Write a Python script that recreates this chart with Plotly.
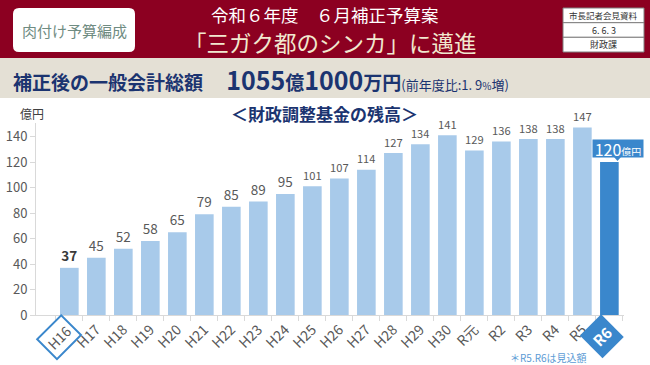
import plotly.graph_objects as go

categories = ["H16", "H17", "H18", "H19", "H20", "H21", "H22", "H23", "H24", "H25",
              "H26", "H27", "H28", "H29", "H30", "R元", "R2", "R3", "R4", "R5", "R6"]
values = [37, 45, 52, 58, 65, 79, 85, 89, 95, 101, 107, 114, 127, 134, 141, 129,
          136, 138, 138, 147, 120]
y_ticks = [0, 20, 40, 60, 80, 100, 120, 140]

W, H = 650, 365
L, R, T, B = 36, 624, 123, 315  # plot area in px


def px(x):
    return (x - L) / (R - L)


def py(y):
    return (B - y) / (B - T)


FONT = "Noto Sans CJK JP"
NAVY = "#1B3470"
LIGHT = "#A8CAEA"
DARK = "#3A87CC"
GREY = "#595959"

colors = [LIGHT] * (len(values) - 1) + [DARK]
texts = []
for i, v in enumerate(values):
    if i == 0:
        texts.append(f"<b>{v}</b>")
    elif i == len(values) - 1:
        texts.append("")
    else:
        texts.append(str(v))
tick_text = ["" if c in ("H16", "R6") else c for c in categories]

fig = go.Figure()
fig.add_trace(go.Bar(
    x=categories, y=values, marker=dict(color=colors, line=dict(width=0)),
    text=texts, textposition="outside", cliponaxis=False,
    textfont=dict(family=FONT, size=13.5, color=[("#3A3A3A" if i == 0 else GREY) for i in range(len(values))]),
    hoverinfo="skip",
))

shapes = []
shapes.append(dict(type="rect", xref="paper", yref="paper", x0=px(0), x1=px(W), y0=py(58), y1=py(0),
                   fillcolor="#8C0021", line=dict(width=0), layer="below"))
shapes.append(dict(type="rect", xref="paper", yref="paper", x0=px(0), x1=px(W), y0=py(98), y1=py(58),
                   fillcolor="#E4E0D5", line=dict(width=0), layer="below"))


def rounded(x0, y0, x1, y1, r):
    return (f"M {px(x0 + r)},{py(y0)} L {px(x1 - r)},{py(y0)} Q {px(x1)},{py(y0)} {px(x1)},{py(y0 + r)} "
            f"L {px(x1)},{py(y1 - r)} Q {px(x1)},{py(y1)} {px(x1 - r)},{py(y1)} "
            f"L {px(x0 + r)},{py(y1)} Q {px(x0)},{py(y1)} {px(x0)},{py(y1 - r)} "
            f"L {px(x0)},{py(y0 + r)} Q {px(x0)},{py(y0)} {px(x0 + r)},{py(y0)} Z")


shapes.append(dict(type="path", xref="paper", yref="paper", path=rounded(13, 8, 135, 52, 6),
                   fillcolor="white", line=dict(width=0)))
rows_y = [8, 22.7, 37.3, 52]
for i in range(3):
    shapes.append(dict(type="rect", xref="paper", yref="paper", x0=px(563), x1=px(644),
                       y0=py(rows_y[i + 1]), y1=py(rows_y[i]), fillcolor="white",
                       line=dict(color="#808080", width=1)))
shapes.append(dict(type="path", xref="paper", yref="paper",
                   path=f"M {px(614)},{py(157)} L {px(621)},{py(157)} L {px(617.5)},{py(161)} Z",
                   fillcolor=DARK, line=dict(width=0)))

annotations = []
annotations.append(dict(xref="paper", yref="paper", x=px(74), y=py(30), text="肉付け予算編成",
                        showarrow=False, xanchor="center", yanchor="middle",
                        font=dict(family=FONT, size=15, color="#6F8C82")))
annotations.append(dict(xref="paper", yref="paper", x=px(325), y=py(14), text="令和６年度　６月補正予算案",
                        showarrow=False, xanchor="center", yanchor="middle",
                        font=dict(family=FONT, size=17.5, color="white")))
annotations.append(dict(xref="paper", yref="paper", x=px(331), y=py(42), text="「三ガク都のシンカ」に邁進",
                        showarrow=False, xanchor="center", yanchor="middle",
                        font=dict(family=FONT, size=22.5, color="#F1E8CF")))
for txt, cy in zip(["市長記者会見資料", "6. 6. 3", "財政課"], [15.3, 30, 44.6]):
    annotations.append(dict(xref="paper", yref="paper", x=px(603.5), y=py(cy), text=txt,
                            showarrow=False, xanchor="center", yanchor="middle",
                            font=dict(family=FONT, size=8.5 if cy < 20 else 9, color="#333333")))
annotations.append(dict(xref="paper", yref="paper", x=px(11), y=py(79),
                        text=("<b>補正後の一般会計総額</b>　 "
                              "<b><span style='font-size:25px'>1055</span>億"
                              "<span style='font-size:25px'>1000</span>万円</b>"
                              "<span style='font-size:13px'>(前年度比:1. 9<span style='font-size:10px'>%</span>増)</span>"),
                        showarrow=False, xanchor="left", yanchor="middle",
                        font=dict(family=FONT, size=19, color=NAVY)))
annotations.append(dict(xref="paper", yref="paper", x=px(324), y=py(113), text="<b>＜財政調整基金の残高＞</b>",
                        showarrow=False, xanchor="center", yanchor="middle",
                        font=dict(family=FONT, size=17, color=NAVY)))
annotations.append(dict(xref="paper", yref="paper", x=px(32), y=py(113), text="億円",
                        showarrow=False, xanchor="center", yanchor="middle",
                        font=dict(family=FONT, size=12, color="#404040")))
annotations.append(dict(xref="paper", yref="paper", x=px(618), y=py(148.5),
                        text="120<span style='font-size:10px'>億円</span>",
                        showarrow=False, xanchor="center", yanchor="middle", bgcolor=DARK,
                        borderpad=1, width=48, height=15,
                        font=dict(family=FONT, size=16, color="white")))
annotations.append(dict(xref="x", yref="paper", x="H16", xshift=-10, y=py(337), text="H16",
                        showarrow=False, xanchor="center", yanchor="middle", textangle=-45,
                        bgcolor="white", bordercolor=DARK, borderwidth=2, borderpad=3,
                        font=dict(family=FONT, size=14, color=GREY)))
annotations.append(dict(xref="x", yref="paper", x="R6", xshift=-8, y=py(336), text="<b>R6</b>",
                        showarrow=False, xanchor="center", yanchor="middle", textangle=-45,
                        bgcolor=DARK, borderpad=5,
                        font=dict(family=FONT, size=15, color="white")))
annotations.append(dict(xref="paper", yref="paper", x=px(589), y=py(357), text="＊R5.R6は見込額",
                        showarrow=False, xanchor="right", yanchor="middle",
                        font=dict(family=FONT, size=10, color="#5B9BD5")))

fig.update_layout(
    width=W, height=H,
    margin=dict(l=L, r=W - R, t=T, b=H - B, pad=0),
    paper_bgcolor="white", plot_bgcolor="white",
    showlegend=False, bargap=0.31,
    shapes=shapes, annotations=annotations,
    font=dict(family=FONT),
    xaxis=dict(type="category", tickmode="array", tickvals=categories, ticktext=tick_text,
               tickson="boundaries", ticks="outside", ticklen=5, tickcolor="#D9D9D9",
               showline=True, linecolor="#D9D9D9", linewidth=1, tickangle=-45,
               tickfont=dict(family=FONT, size=14, color=GREY), showgrid=False,
               fixedrange=True, automargin=False),
    yaxis=dict(range=[0, 150.6], tickvals=y_ticks, showgrid=False, zeroline=False,
               showline=True, linecolor="#D9D9D9", ticks="outside", ticklen=5, tickcolor="#D9D9D9",
               tickfont=dict(family=FONT, size=13, color=GREY), fixedrange=True, automargin=False),
)

fig.write_html("out.html", config={"displayModeBar": False},
               post_script="document.body.style.margin='0px';document.body.style.overflow='hidden';")
